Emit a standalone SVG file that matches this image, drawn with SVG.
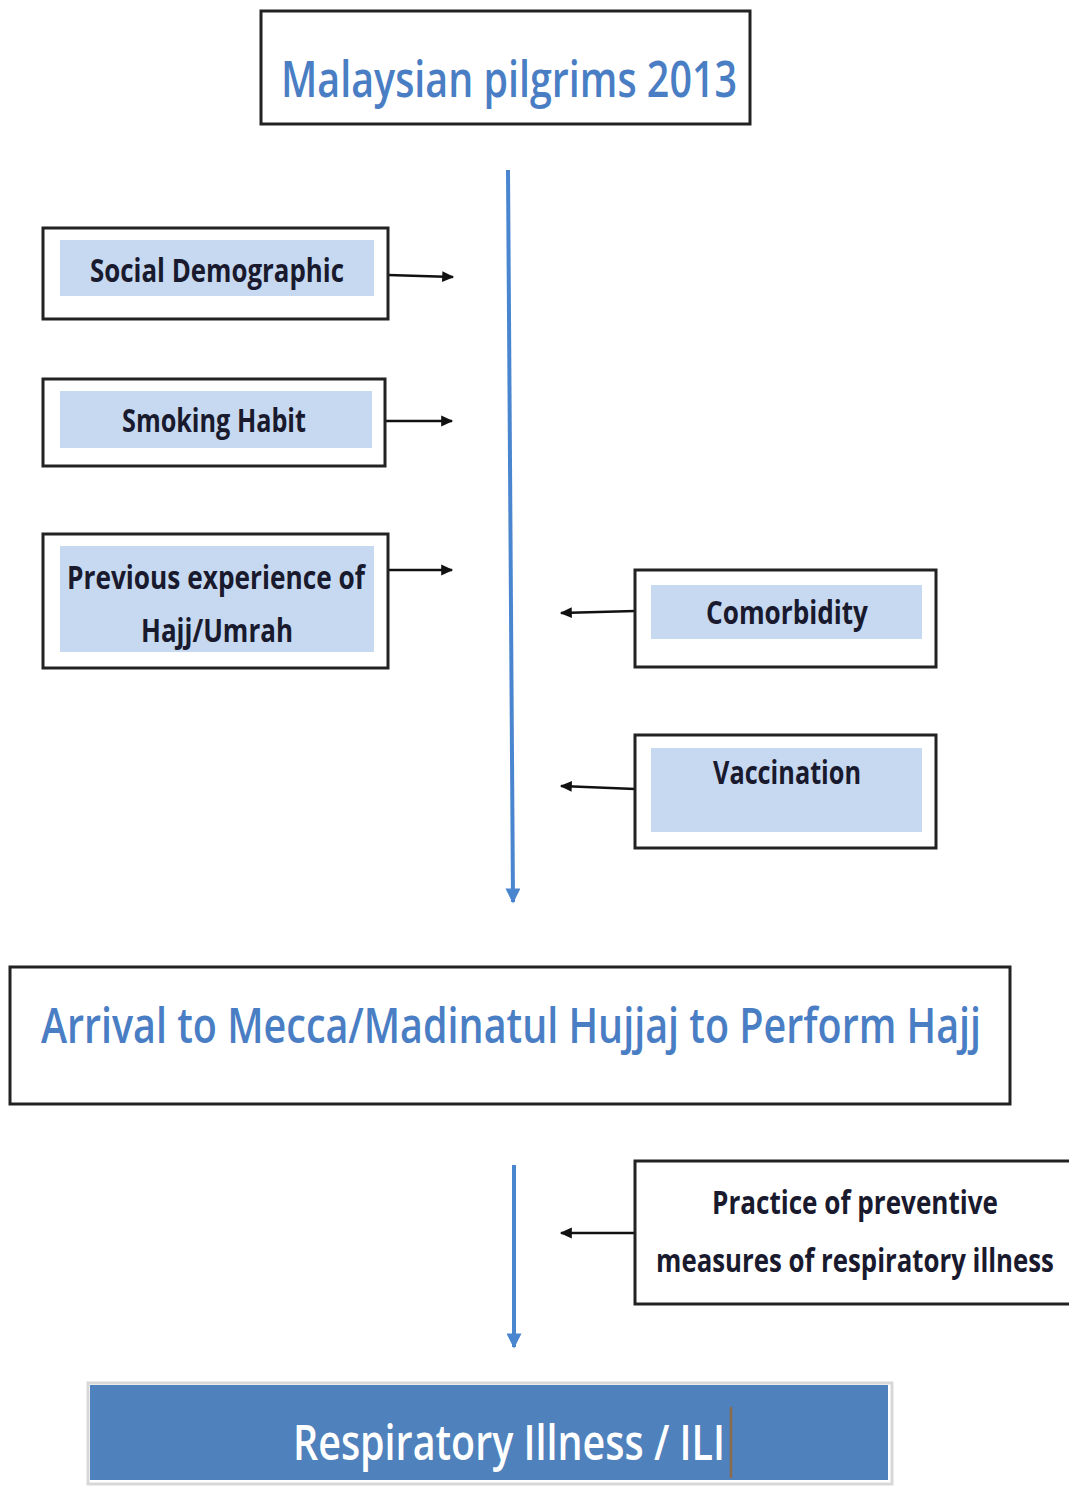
<svg xmlns="http://www.w3.org/2000/svg" width="1069" height="1486" viewBox="0 0 1069 1486">
<style>
.box{fill:#fff;stroke:#222;stroke-width:3}
.inner{fill:#c6d9f1}
.lbl{font-family:"Open Sans","Liberation Sans",sans-serif;font-weight:700;fill:#1a1a2e;text-anchor:middle}
.title{font-family:"Open Sans","Liberation Sans",sans-serif;font-weight:600;fill:#4a7ec4;text-anchor:middle}
.blk{stroke:#111;stroke-width:2.5;fill:none}
.blue{stroke:#4a86cf;stroke-width:4;fill:none}
</style>
<defs>
<marker id="ah" viewBox="0 0 10 10" refX="9" refY="5" markerWidth="13" markerHeight="12" orient="auto" markerUnits="userSpaceOnUse"><path d="M0,0.5 L10,5 L0,9.5 z" fill="#111"/></marker>
<marker id="ab" viewBox="0 0 10 10" refX="9" refY="5" markerWidth="20" markerHeight="15" orient="auto" markerUnits="userSpaceOnUse"><path d="M0,0 L10,5 L0,10 z" fill="#4a86cf"/></marker>
</defs>
<g id="connectors">
<path class="blue" d="M508,170 L513,902" marker-end="url(#ab)"/>
<path class="blue" d="M514,1165 L514,1347" marker-end="url(#ab)"/>
<path class="blk" d="M388,275 L453,277" marker-end="url(#ah)"/>
<path class="blk" d="M385,421 L452,421" marker-end="url(#ah)"/>
<path class="blk" d="M388,570 L452,570" marker-end="url(#ah)"/>
<path class="blk" d="M635,611 L561,613" marker-end="url(#ah)"/>
<path class="blk" d="M635,789 L561,786" marker-end="url(#ah)"/>
<path class="blk" d="M635,1233 L561,1233" marker-end="url(#ah)"/>
</g>
<g id="n-malaysian">
<rect class="box" x="261" y="11" width="489" height="113"/>
<text class="title" x="509" y="97" font-size="50" textLength="456" lengthAdjust="spacingAndGlyphs">Malaysian pilgrims 2013</text>
</g>
<g id="n-social">
<rect class="box" x="43" y="228" width="345" height="91"/>
<rect class="inner" x="60" y="240" width="314" height="56"/>
<text class="lbl" x="217" y="282" font-size="32" textLength="254" lengthAdjust="spacingAndGlyphs">Social Demographic</text>
</g>
<g id="n-smoking">
<rect class="box" x="43" y="379" width="342" height="87"/>
<rect class="inner" x="60" y="391" width="312" height="57"/>
<text class="lbl" x="214" y="432" font-size="32" textLength="184" lengthAdjust="spacingAndGlyphs">Smoking Habit</text>
</g>
<g id="n-previous">
<rect class="box" x="43" y="534" width="345" height="134"/>
<rect class="inner" x="60" y="546" width="314" height="106"/>
<text class="lbl" x="216" y="589" font-size="32" textLength="298" lengthAdjust="spacingAndGlyphs">Previous experience of</text>
<text class="lbl" x="217" y="642" font-size="32" textLength="152" lengthAdjust="spacingAndGlyphs">Hajj/Umrah</text>
</g>
<g id="n-comorbidity">
<rect class="box" x="635" y="570" width="301" height="97"/>
<rect class="inner" x="651" y="585" width="271" height="54"/>
<text class="lbl" x="787" y="624" font-size="32" textLength="162" lengthAdjust="spacingAndGlyphs">Comorbidity</text>
</g>
<g id="n-vaccination">
<rect class="box" x="635" y="735" width="301" height="113"/>
<rect class="inner" x="651" y="748" width="271" height="84"/>
<text class="lbl" x="787" y="784" font-size="32" textLength="148" lengthAdjust="spacingAndGlyphs">Vaccination</text>
</g>
<g id="n-arrival">
<rect class="box" x="10" y="967" width="1000" height="137"/>
<text class="title" transform="translate(511,1043) scale(0.73,1)" x="0" y="0" font-size="48" textLength="1288" lengthAdjust="spacingAndGlyphs">Arrival to Mecca/Madinatul Hujjaj to Perform Hajj</text>
</g>
<g id="n-practice">
<rect class="box" x="635" y="1161" width="440" height="143"/>
<text class="lbl" x="855" y="1214" font-size="32" textLength="286" lengthAdjust="spacingAndGlyphs">Practice of preventive</text>
<text class="lbl" transform="translate(855,1272) scale(0.73,1)" x="0" y="0" font-size="32" textLength="545" lengthAdjust="spacingAndGlyphs">measures of respiratory illness</text>
</g>
<g id="n-respiratory">
<rect x="88" y="1383" width="804" height="101" fill="none" stroke="#d8d8d8" stroke-width="3"/>
<rect x="90" y="1385" width="798" height="95" fill="#4f81bd"/>
<text x="509" y="1460" font-size="48" font-family="'Open Sans','Liberation Sans',sans-serif" font-weight="600" fill="#fff" text-anchor="middle" textLength="432" lengthAdjust="spacingAndGlyphs">Respiratory Illness / ILI</text>
<line x1="731" y1="1407" x2="731" y2="1478" stroke="#8b6b4a" stroke-width="2.5"/>
</g>
</svg>
